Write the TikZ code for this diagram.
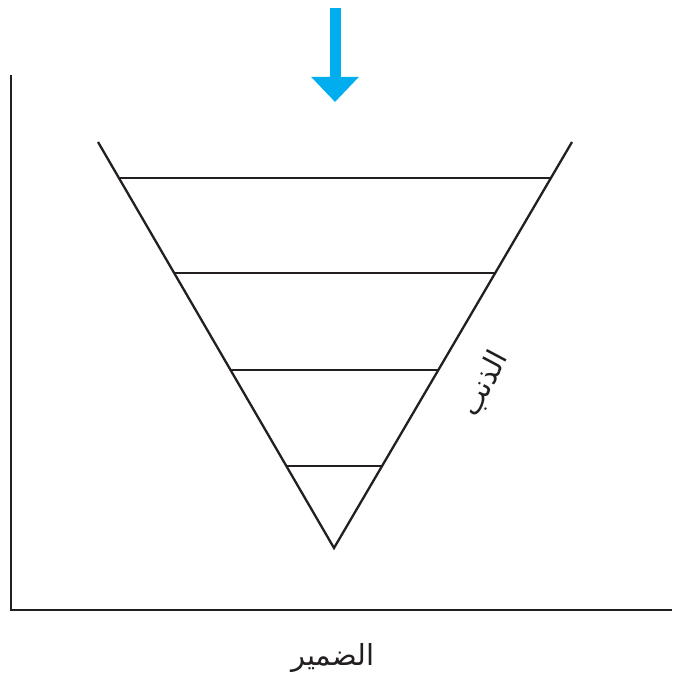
\documentclass[tikz,border=0pt]{standalone}
\usepackage{fontspec}
\newfontfamily\arabicfont[Script=Arabic]{DejaVu Sans}
\TeXXeTstate=1
\usetikzlibrary{arrows.meta,calc}
\definecolor{ink}{HTML}{231F20}
\definecolor{arrowblue}{HTML}{00AEEF}
\begin{document}
\begin{tikzpicture}[
  x=1pt, y=-1pt,
  line/.style={draw=ink, line width=2.3pt},
  label/.style={text=ink, font=\arabicfont\fontsize{29}{34}\selectfont, inner sep=0pt}
]
  \useasboundingbox (0,0) rectangle (672,684);

  % axes
  \coordinate (ytop) at (11,75);
  \coordinate (origin) at (11,610);
  \coordinate (xend) at (672,610);
  \draw[line, line width=2.8pt] (ytop) -- (origin) -- (xend);

  % funnel
  \coordinate (tl) at (98,142);
  \coordinate (tr) at (572,142);
  \coordinate (apex) at (334,548);
  \draw[line] (tl) -- (apex) -- (tr);
  \foreach \t in {0.0887,0.3227,0.5616,0.798} {
    \draw[line] ($(tl)!\t!(apex)$) -- ($(tr)!\t!(apex)$);
  }

  % arrow
  \coordinate (astart) at (335,8);
  \coordinate (aend) at (335,102);
  \draw[arrowblue, line width=11pt, -{Triangle[width=46pt,length=25pt]}] (astart) -- (aend);

  % labels
  \node[label, rotate=62] (guilt) at (485,384) {\beginR الذنب\endR};
  \node[label] (conscience) at (333,658) {\beginR الضمير\endR};
\end{tikzpicture}
\end{document}
